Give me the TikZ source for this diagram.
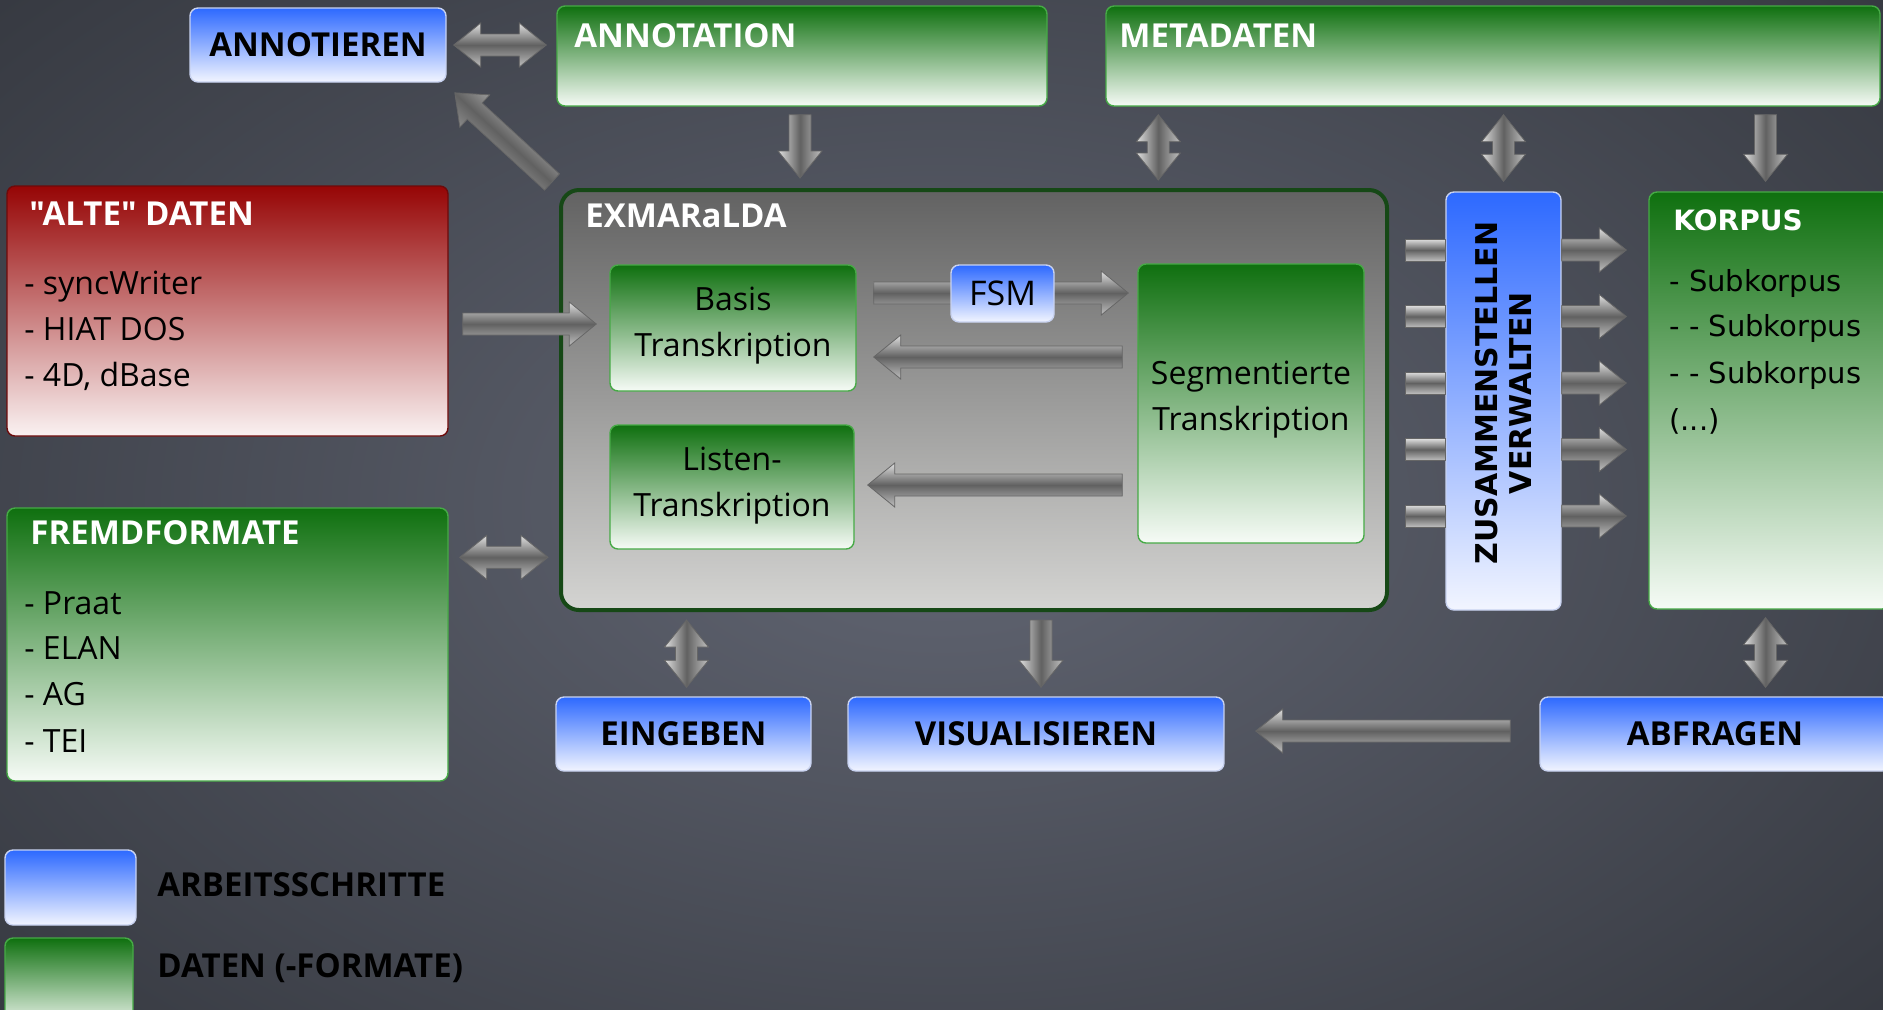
\documentclass[tikz,border=0pt]{standalone}
\usepackage{fontspec}
\setmainfont{Open Sans}[Ligatures=TeXOff]
\newfontfamily\dejavu{DejaVu Sans}
\usetikzlibrary{calc,fit}
\definecolor{bgin}{RGB}{98,102,115}
\definecolor{bgout}{RGB}{50,53,60}
\definecolor{bluetop}{RGB}{45,105,255}
\definecolor{bluebot}{RGB}{242,245,255}
\definecolor{blueline}{RGB}{200,210,240}
\definecolor{greentop}{RGB}{15,112,15}
\definecolor{greenbot}{RGB}{246,251,246}
\definecolor{greenline}{RGB}{70,170,70}
\definecolor{redtop}{RGB}{150,5,5}
\definecolor{redbot}{RGB}{250,242,242}
\definecolor{redline}{RGB}{110,10,10}
\definecolor{exmtop}{RGB}{98,98,98}
\definecolor{exmbot}{RGB}{212,212,210}
\definecolor{exmline}{RGB}{22,72,22}
\newcommand\titlefont{\fontsize{16.5}{20}\selectfont\bfseries}
\newcommand\bodyfont{\fontsize{16}{23}\selectfont}
\tikzset{
  box/.style={rounded corners=4pt, inner sep=0pt, line width=0.7pt},
  bluebox/.style={box, top color=bluetop, bottom color=bluebot, draw=blueline},
  greenbox/.style={box, top color=greentop, bottom color=greenbot, draw=greenline},
  redbox/.style={box, top color=redtop, bottom color=redbot, draw=redline},
  exmbox/.style={box, rounded corners=9pt, top color=exmtop, bottom color=exmbot, draw=exmline, line width=2pt},
  titletext/.style={inner sep=0pt, anchor=west, text=white, font=\titlefont},
  itemtext/.style={inner sep=0pt, anchor=base west, text=black, font=\bodyfont},
  korpusitem/.style={inner sep=0pt, anchor=base west, text=black, font=\dejavu\fontsize{14.5}{20}\selectfont},
  steptext/.style={inner sep=0pt, text=black, font=\titlefont},
  bodytext/.style={inner sep=0pt, text=black, font=\bodyfont, align=center},
  arrowshape/.style={draw=black!60, line width=0.4pt, top color=gray!25, bottom color=gray!50, middle color=black!62}
}
% block arrow between two points
\newcommand\barrowsingle{%
  \path[arrowshape, shading angle=\basa] (0pt,-5.5pt) -- ({\balen pt-13.5pt},-5.5pt) -- ({\balen pt-13.5pt},-11pt)
    -- (\balen pt,0pt) -- ({\balen pt-13.5pt},11pt) -- ({\balen pt-13.5pt},5.5pt) -- (0pt,5.5pt) -- cycle;}
\newcommand\barrowdouble{%
  \path[arrowshape, shading angle=\basa] (0pt,0pt) -- (13.5pt,11pt) -- (13.5pt,5.5pt) -- ({\balen pt-13.5pt},5.5pt)
    -- ({\balen pt-13.5pt},11pt) -- (\balen pt,0pt) -- ({\balen pt-13.5pt},-11pt) -- ({\balen pt-13.5pt},-5.5pt)
    -- (13.5pt,-5.5pt) -- (13.5pt,-11pt) -- cycle;}
\newcommand\barrowstub{%
  \path[arrowshape, shading angle=\basa] (0pt,-5.5pt) rectangle (\balen pt,5.5pt);}
\newcommand\barrow[3][single]{%
  \path #2 coordinate (baS) #3 coordinate (baE);
  \pgfpointdiff{\pgfpointanchor{baS}{center}}{\pgfpointanchor{baE}{center}}%
  \pgfgetlastxy{\badx}{\bady}%
  \pgfmathsetmacro\baang{atan2(\bady,\badx)}%
  \pgfmathsetmacro\balen{veclen(\badx,\bady)}%
  \pgfmathsetmacro\basa{\baang>90 ? \baang-180 : (\baang<=-90 ? \baang+180 : \baang)}%
  \begin{scope}[shift={(baS)}, rotate=\baang]
    \csname barrow#1\endcsname
  \end{scope}}
\begin{document}
\begin{tikzpicture}[x=0.5pt,y=-0.5pt]
\useasboundingbox (0,0) rectangle (1883,1009);
\clip (0,0) rectangle (1883,1009);
\shade[inner color=bgin, outer color=bgout] (-450,-350) rectangle (2333,1359);

% top row
\node[bluebox, fit={(190,8) (446,82)}] (annotieren) {};
\node[steptext] (annotierenT) at (annotieren.center) {ANNOTIEREN};
\node[greenbox, fit={(557,6) (1047,106)}] (annotation) {};
\node[titletext] (annotationT) at (574,36) {ANNOTATION};
\node[greenbox, fit={(1106,6) (1880,106)}] (metadaten) {};
\node[titletext] (metadatenT) at (1119,36) {METADATEN};

% left column
\node[redbox, fit={(7,186) (448,436)}] (alte) {};
\node[titletext] (alteT) at (29,214) {"ALTE" DATEN};
\node[itemtext] (alte1) at (24,294) {- syncWriter};
\node[itemtext] (alte2) at (24,340) {- HIAT DOS};
\node[itemtext] (alte3) at (24,386) {- 4D, dBase};

\node[greenbox, fit={(7,508) (448,781)}] (fremd) {};
\node[titletext] (fremdT) at (30,533) {FREMDFORMATE};
\node[itemtext] (fremd1) at (24,614) {- Praat};
\node[itemtext] (fremd2) at (24,659) {- ELAN};
\node[itemtext] (fremd3) at (24,705) {- AG};
\node[itemtext] (fremd4) at (24,752) {- TEI};

% EXMARaLDA
\node[exmbox, fit={(561,190) (1387,610)}] (exm) {};
\node[titletext] (exmT) at (585,216) {EXMARaLDA};
\node[greenbox, fit={(610,265) (856,391)}] (basis) {};
\node[bodytext] (basisT) at ($(basis.center)+(0,-2)$) {Basis\\Transkription};
\node[greenbox, fit={(610,425) (854,549)}] (listen) {};
\node[bodytext] (listenT) at ($(listen.center)+(0,-1)$) {Listen-\\Transkription};
\node[greenbox, fit={(1138,264) (1364,543)}] (seg) {};
\node[bodytext] (segT) at (1251,400) {Segmentierte\\Transkription};

% right column
\node[bluebox, fit={(1446,192) (1561,610)}] (zus) {};
\node[rotate=90, align=center, text=black, inner sep=0pt, font=\dejavu\fontsize{15}{17}\selectfont\bfseries]
  (zusT) at (1503,393) {ZUSAMMENSTELLEN\\VERWALTEN};
\node[greenbox, fit={(1649,192) (1890,609)}] (korpus) {};
\node[titletext, font=\dejavu\fontsize{14}{16}\selectfont\bfseries] (korpusT) at (1673,220) {KORPUS};
\node[korpusitem] (k1) at (1669,291) {- Subkorpus};
\node[korpusitem] (k2) at (1669,336) {- - Subkorpus};
\node[korpusitem] (k3) at (1669,383) {- - Subkorpus};
\node[korpusitem] (k4) at (1669,430) {(...)};

% bottom row
\node[bluebox, fit={(556,697) (811,771)}] (eingeben) {};
\node[steptext] (eingebenT) at (eingeben.center) {EINGEBEN};
\node[bluebox, fit={(848,697) (1224,771)}] (visual) {};
\node[steptext] (visualT) at (visual.center) {VISUALISIEREN};
\node[bluebox, fit={(1540,697) (1890,771)}] (abfragen) {};
\node[steptext] (abfragenT) at (abfragen.center) {ABFRAGEN};

% legend
\node[bluebox, fit={(5,850) (136,925)}] (legblue) {};
\node[steptext, anchor=west] (legblueT) at (157,885) {ARBEITSSCHRITTE};
\node[greenbox, fit={(5,938) (133,1030)}] (leggreen) {};
\node[steptext, anchor=west] (leggreenT) at (157,968) {DATEN (-FORMATE)};

% connectors
\barrow[double]{($(annotieren.east)+(7,0)$)}{($(annotieren.east -| annotation.west)+(-10,0)$)}
\barrow{($(exm.north west)+(-7,-6)$)}{($(annotieren.south east)+(8,10)$)}
\barrow{($(annotation.south)+(-2,8)$)}{($(annotation.south |- exm.north)+(-2,-10)$)}
\barrow[double]{($(metadaten.south west)+(53,8)$)}{($(metadaten.south west |- exm.north)+(53,-8)$)}
\barrow[double]{($(zus.north |- metadaten.south)+(0,8)$)}{($(zus.north)+(0,-10)$)}
\barrow{($(korpus.north |- metadaten.south)+(-4,8)$)}{($(korpus.north)+(-4,-10)$)}
\barrow{($(alte.east)+(14,13)$)}{($(basis.west |- alte.east)+(-13,13)$)}
\barrow{($(basis.east)+(17,-35)$)}{($(seg.west |- basis.east)+(-9,-35)$)}
\barrow{($(seg.west |- basis.east)+(-15,29)$)}{($(basis.east)+(17,29)$)}
\barrow{($(seg.west |- listen.east)+(-15,-2)$)}{($(listen.east)+(13,-2)$)}
\barrow[double]{($(fremd.north east)+(11,50)$)}{($(exm.west |- fremd.north east)+(-11,50)$)}
\barrow[double]{($(eingeben.north |- exm.south)+(3,8)$)}{($(eingeben.north)+(3,-9)$)}
\barrow{($(visual.north |- exm.south)+(5,8)$)}{($(visual.north)+(5,-9)$)}
\barrow[double]{($(korpus.south)+(-4,8)$)}{($(korpus.south |- abfragen.north)+(-4,-9)$)}
\barrow{($(abfragen.west)+(-29,-3)$)}{($(visual.east)+(31,-3)$)}
\foreach \dy in {-151,-84.5,-18,48.5,115}{
  \barrow[stub]{($(exm.east |- zus.west)+(16,\dy)$)}{($(zus.west)+(0,\dy)$)}
  \barrow{($(zus.east)+(0,\dy)$)}{($(korpus.west |- zus.east)+(-22,\dy)$)}
}
\node[bluebox, fit={(951,265) (1054,322)}] (fsm) {};
\node[inner sep=0pt, text=black, font=\fontsize{17}{20}\selectfont] (fsmT) at (fsm.center) {FSM};
\end{tikzpicture}
\end{document}
